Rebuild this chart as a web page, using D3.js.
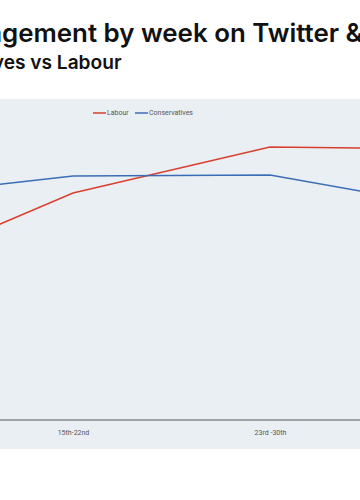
<!DOCTYPE html>
<html>
<head>
<meta charset="utf-8">
<script src="https://cdn.jsdelivr.net/npm/d3@7"></script>
<style>
    body { margin: 0; background: #fff; }
    svg { display: block; }
</style>
</head>
<body>
<div id="chart"></div>
<script>
// Chart data
const weeks = ["8th-14th", "15th-22nd", "23rd -30th", "1st-7th"];
const labour = [143, 227, 273, 271];
const conservatives = [222, 244, 245, 210];
const seriesNames = ["Labour", "Conservatives"];
const seriesColors = ["#d8402f", "#3b6db7"];
const shownWeeks = ["15th-22nd", "23rd -30th"];

const width = 360;
const height = 500;

const svg = d3.select("#chart")
    .append("svg")
    .attr("width", width)
    .attr("height", height);

// Plot background
svg.append("rect")
    .attr("x", 0)
    .attr("y", 99)
    .attr("width", width)
    .attr("height", 350)
    .attr("fill", "#eaeff3");

const titleFont = "Inter, 'Open Sans', sans-serif";

function measure(str, size) {
    const probe = svg.append("text")
        .style("font-family", titleFont)
        .style("font-weight", "600")
        .style("font-size", size + "px")
        .text(str);
    const w = probe.node().getComputedTextLength();
    probe.remove();
    return w;
}

// Title and subtitle are cropped on the left like the source image
function croppedText(full, hidden, shown, startX, endX, y) {
    const size = 20 * (endX - startX) / measure(shown, 20);
    svg.append("text")
        .attr("y", y)
        .attr("x", startX - measure(hidden, size))
        .style("font-family", titleFont)
        .style("font-weight", "600")
        .style("font-size", size + "px")
        .style("fill", "#111")
        .text(full);
}
croppedText("Engagement by week on Twitter & Facebook", "Enga",
    "gement by week on Twitter &", 2, 363, 42);
croppedText("Conservatives vs Labour", "Conservativ", "es vs Labour", 4, 122, 69);

// Scales
const x = d3.scalePoint()
    .domain(weeks)
    .range([-124, 467]);

const y = d3.scaleLinear()
    .domain([0, 300])
    .range([420, 120]);

// Axis
const xAxis = d3.axisBottom(x).tickValues(shownWeeks).tickSize(0).tickPadding(10);
const axisG = svg.append("g")
    .attr("transform", "translate(0,420)")
    .call(xAxis);
axisG.select(".domain").remove();
axisG.selectAll("text")
    .style("font-family", "'Liberation Sans Narrow', 'Roboto', sans-serif")
    .style("font-size", "7px")
    .style("fill", "#555");

svg.append("line")
    .attr("x1", 0)
    .attr("x2", width)
    .attr("y1", y(0))
    .attr("y2", y(0))
    .attr("stroke", "#8a8a8a")
    .attr("stroke-width", 1.6);

// Lines
const line = d3.line()
    .x((d, i) => x(weeks[i]))
    .y(d => y(d));

[labour, conservatives].forEach((values, i) => {
    svg.append("path")
        .datum(values)
        .attr("fill", "none")
        .attr("stroke", seriesColors[i])
        .attr("stroke-width", 1.5)
        .attr("d", line);
});

// Legend
const legend = svg.append("g").attr("transform", "translate(93,113)");
const legendX = [0, 42];
seriesNames.forEach((name, i) => {
    const item = legend.append("g").attr("transform", `translate(${legendX[i]},0)`);
    item.append("line")
        .attr("x1", 0).attr("x2", 13)
        .attr("y1", 0).attr("y2", 0)
        .attr("stroke", seriesColors[i])
        .attr("stroke-width", 1.5);
    item.append("text")
        .attr("x", 14)
        .attr("dy", "0.35em")
        .style("font-family", "'Liberation Sans Narrow', 'Roboto', sans-serif")
        .style("font-size", "7px")
        .style("fill", "#555")
        .text(name);
});
</script>
</body>
</html>
